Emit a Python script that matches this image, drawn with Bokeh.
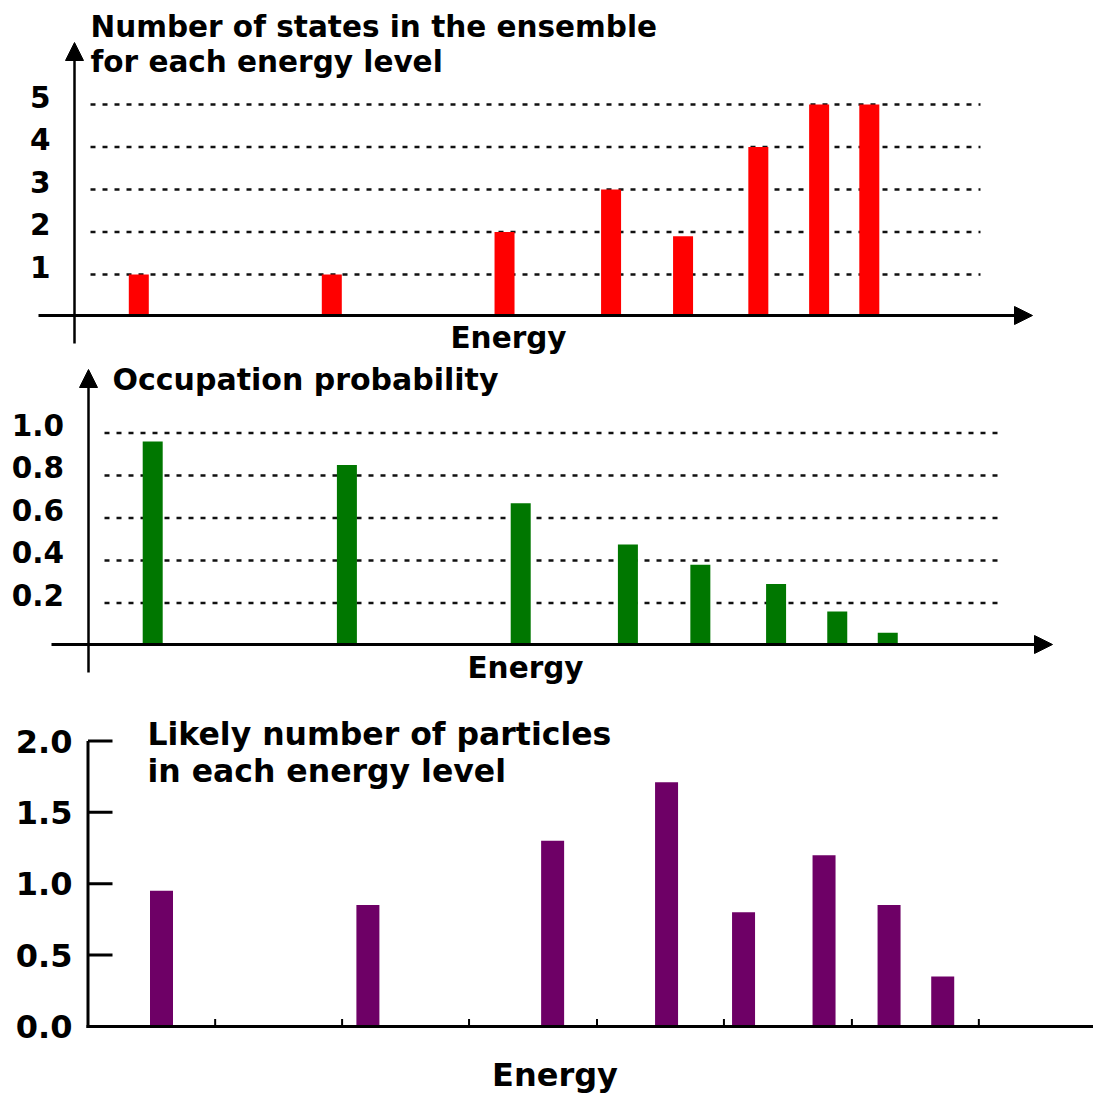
from bokeh.plotting import figure
from bokeh.layouts import column
from bokeh.models import Range1d, Arrow, NormalHead
from bokeh.core.properties import value
from bokeh.embed import file_html
from bokeh.resources import INLINE

# ---------------- data ----------------
energy = [0.0, 1.0, 1.895, 2.447, 2.82, 3.21, 3.525, 3.785]      # energy levels (relative units)
states = [1, 1, 2, 3, 1.9, 4, 5, 5]                              # number of states per level
occupation = [0.96, 0.85, 0.67, 0.475, 0.38, 0.29, 0.16, 0.06]   # occupation probability
particles = [0.95, 0.85, 1.30, 1.71, 0.80, 1.20, 0.85, 0.35]     # likely number of particles

states_ticks = [1, 2, 3, 4, 5]
states_tick_labels = ["1", "2", "3", "4", "5"]
occ_ticks = [0.2, 0.4, 0.6, 0.8, 1.0]
occ_tick_labels = ["0.2", "0.4", "0.6", "0.8", "1.0"]
part_ticks = [0.0, 0.5, 1.0, 1.5, 2.0]
part_tick_labels = ["0.0", "0.5", "1.0", "1.5", "2.0"]
part_energy_ticks = [0.26, 0.875, 1.49, 2.11, 2.725, 3.345, 3.96]

title1 = ["Number of states in the ensemble", "for each energy level"]
title2 = ["Occupation probability"]
title3 = ["Likely number of particles", "in each energy level"]
x_label = "Energy"

# ---------------- styling / layout ----------------
W = 1093
FONT = value("DejaVu Sans")
RED, GREEN, PURPLE = "#ff0000", "#007700", "#6e0066"
GRID = "#111111"
GRID_DASH = "5 7"
BASE_FIX = 0.356   # em offset of the rendered alphabetic baseline


def panel(top, bottom, x0, xs, y0, ys):
    X = lambda px: (px - x0) / xs
    Y = lambda py: (y0 - py) / ys
    p = figure(width=W, height=bottom - top,
               x_range=Range1d(X(0), X(W)),
               y_range=Range1d(Y(bottom), Y(top)),
               x_axis_type=None, y_axis_type=None,
               output_backend="svg", toolbar_location=None,
               min_border_left=0, min_border_right=0,
               min_border_top=0, min_border_bottom=0, min_border=0)
    p.outline_line_color = None
    p.background_fill_color = "white"
    p.border_fill_color = "white"
    return p, X, Y


def txt(p, Y, xs_, baselines_px, texts, size, align="left"):
    ys_ = [Y(b - BASE_FIX * size) for b in baselines_px]
    p.text(x=xs_, y=ys_, text=texts, text_font=FONT, text_font_style="bold",
           text_font_size=f"{size}px", text_align=align,
           text_baseline="alphabetic", text_color="black")


def arrow(p, xa, ya, xb, yb, lw):
    p.add_layout(Arrow(end=NormalHead(size=18, fill_color="black", line_color="black", line_width=1),
                       x_start=xa, y_start=ya, x_end=xb, y_end=yb,
                       line_width=lw, line_color="black"))


# ---------------- panel 1: number of states ----------------
p1, X1, Y1 = panel(0, 355, 138.3, 193.0, 316.5, 42.5)
n = len(states_ticks)
p1.segment(x0=[X1(90)] * n, x1=[X1(980)] * n, y0=states_ticks, y1=states_ticks,
           line_dash=GRID_DASH, line_width=2.7, line_color=GRID)
p1.vbar(x=energy, top=states, bottom=0, width=20 / 193.0, fill_color=RED, line_color=None)
arrow(p1, X1(38), Y1(315), X1(1032), Y1(315), 3)
arrow(p1, X1(74), Y1(343), X1(74), Y1(42), 2.5)
txt(p1, Y1, [X1(50)] * n, [316.5 - 42.5 * v + 3 for v in states_ticks], states_tick_labels, 29.5, "right")
txt(p1, Y1, [X1(90), X1(90)], [36.7, 71.7], title1, 29.5)
txt(p1, Y1, [X1(508)], [348.5], [x_label], 29.5, "center")

# ---------------- panel 2: occupation probability ----------------
p2, X2, Y2 = panel(355, 690, 152.2, 194.2, 645.0, 212.5)
n = len(occ_ticks)
p2.segment(x0=[X2(104)] * n, x1=[X2(1000)] * n, y0=occ_ticks, y1=occ_ticks,
           line_dash=GRID_DASH, line_width=2.7, line_color=GRID)
p2.vbar(x=energy, top=occupation, bottom=0, width=20 / 194.2, fill_color=GREEN, line_color=None)
arrow(p2, X2(51), Y2(644), X2(1052), Y2(644), 3)
arrow(p2, X2(88), Y2(672), X2(88), Y2(369), 2.5)
txt(p2, Y2, [X2(63.5)] * n, [645.0 - 212.5 * v + 2.5 for v in occ_ticks], occ_tick_labels, 29.5, "right")
txt(p2, Y2, [X2(112)], [389.5], title2, 30)
txt(p2, Y2, [X2(525)], [678.3], [x_label], 29.5, "center")

# ---------------- panel 3: likely number of particles ----------------
p3, X3, Y3 = panel(690, 1094, 161.0, 206.4, 1026.0, 142.8)
# y axis line and inward ticks
p3.segment(x0=[X3(87.5)], x1=[X3(87.5)], y0=[Y3(1027.5)], y1=[max(part_ticks)],
           line_width=3, line_color="black")
m = len(part_ticks)
p3.segment(x0=[X3(87.5)] * m, x1=[X3(112)] * m, y0=part_ticks, y1=part_ticks,
           line_width=3, line_color="black")
txt(p3, Y3, [X3(72)] * m, [1026.0 - 142.8 * v + 11.5 for v in part_ticks], part_tick_labels, 32, "right")
# x axis line and small upward ticks
k = len(part_energy_ticks)
p3.segment(x0=part_energy_ticks, x1=part_energy_ticks, y0=[0] * k, y1=[Y3(1018.5)] * k,
           line_width=2, line_color="black")
p3.vbar(x=energy, top=particles, bottom=0, width=23 / 206.4, fill_color=PURPLE, line_color=None)
p3.segment(x0=[X3(86)], x1=[X3(1093)], y0=[0], y1=[0], line_width=3, line_color="black")
txt(p3, Y3, [X3(147), X3(147)], [744.5, 781.5], title3, 31.5)
txt(p3, Y3, [X3(554.5)], [1086], [x_label], 32, "center")

layout = column(p1, p2, p3, spacing=0)
open("out.html", "w").write(file_html(layout, INLINE))
